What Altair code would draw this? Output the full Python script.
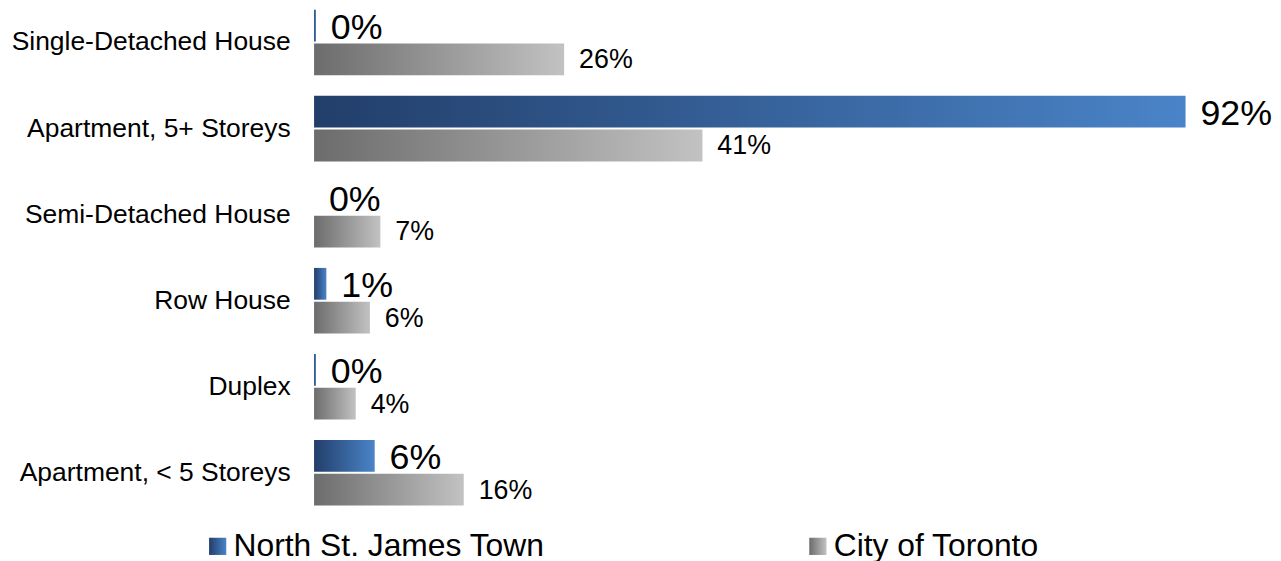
import altair as alt
import pandas as pd

categories = ["Single-Detached House", "Apartment, 5+ Storeys", "Semi-Detached House",
              "Row House", "Duplex", "Apartment, < 5 Storeys"]
series = ["North St. James Town", "City of Toronto"]
nsjt = [0.2, 92, 0, 1.3, 0.2, 6.4]
toronto = [26.4, 41, 7, 5.9, 4.4, 15.8]

rows = []
for c, v in zip(categories, nsjt):
    rows.append({"category": c, "series": series[0], "value": v, "label": f"{round(v)}%"})
for c, v in zip(categories, toronto):
    rows.append({"category": c, "series": series[1], "value": v, "label": f"{round(v)}%"})
df = pd.DataFrame(rows)

FONT = "Liberation Sans"

blue_grad = ("{gradient:'linear',x1:0,y1:0,x2:1,y2:0,stops:["
             "{offset:0,color:'#223e6a'},{offset:1,color:'#4a84c8'}]}")
gray_grad = ("{gradient:'linear',x1:0,y1:0,x2:1,y2:0,stops:["
             "{offset:0,color:'#6c6c6c'},{offset:1,color:'#c2c2c2'}]}")

y_enc = alt.Y("category:N", sort=categories, title=None,
              scale=alt.Scale(paddingInner=0.238, paddingOuter=0),
              axis=alt.Axis(ticks=False, domain=False, labelFontSize=26.6, labelColor="#000000",
                            labelFont=FONT, labelPadding=24, labelLimit=0))
yoff_enc = alt.YOffset("series:N", sort=series,
                       scale=alt.Scale(paddingInner=0.06, paddingOuter=0))
x_enc = alt.X("value:Q", title=None, axis=None,
              scale=alt.Scale(domain=[0, 92], nice=False, zero=True))

base = alt.Chart(df).encode(y=y_enc, yOffset=yoff_enc, x=x_enc)

bars = base.mark_bar().encode(
    color=alt.Color("series:N", sort=series, title=None,
                    scale=alt.Scale(domain=series,
                                    range=[{"expr": blue_grad}, {"expr": gray_grad}]),
                    legend=alt.Legend(orient="none", legendX=-113, legendY=524,
                                      direction="horizontal", symbolType="square",
                                      symbolSize=300, symbolStrokeWidth=0,
                                      labelFontSize=32, labelFont=FONT, labelColor="#000000",
                                      labelOffset=0, labelLimit=0, columnPadding=259,
                                      padding=0))
)

blue_text = base.transform_filter(alt.datum.series == series[0]).mark_text(
    align="left", baseline="middle", dx=15, dy=2, fontSize=36, font=FONT, color="#000000"
).encode(text="label:N")

gray_text = base.transform_filter(alt.datum.series == series[1]).mark_text(
    align="left", baseline="middle", dx=15, dy=1, fontSize=27, font=FONT, color="#000000"
).encode(text="label:N")

chart = alt.layer(bars, blue_text, gray_text).properties(
    width=877, height=499,
    background="#ffffff",
    autosize=alt.AutoSizeParams(type="none"),
    padding={"left": 308, "top": 0, "right": 88, "bottom": 56},
).configure_view(stroke=None, strokeWidth=0)

chart.save("out.html", embed_options={"renderer": "svg", "actions": False})
